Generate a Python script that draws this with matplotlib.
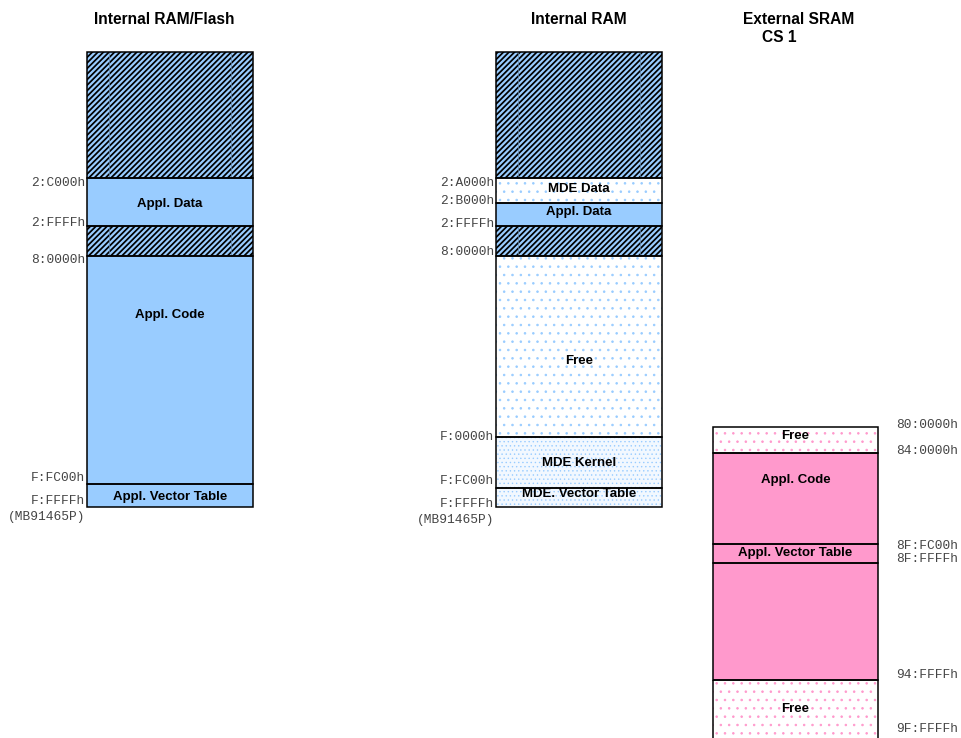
import matplotlib
matplotlib.use("Agg")
import matplotlib.pyplot as plt
from matplotlib.patches import Rectangle

BLUE = "#99CCFF"
PINK = "#FF99CC"

# ---- data (diagram units: vertical position of region boundaries) ----
titles = ["Internal RAM/Flash", "Internal RAM", "External SRAM", "CS 1"]

c1_bounds = [52, 178, 226, 256, 484, 507]
c1_kinds = ["hatch", "blue", "hatch", "blue", "blue"]
c1_labels = ["", "Appl. Data", "", "Appl. Code", "Appl. Vector Table"]
c1_label_y = [0, 204, 0, 315, 497]
c1_addr = ["2:C000h", "2:FFFFh", "8:0000h", "F:FC00h", "F:FFFFh", "(MB91465P)"]
c1_addr_y = [183, 223, 260, 478, 501, 517]

c2_bounds = [52, 178, 203, 226, 256, 437, 488, 507]
c2_kinds = ["hatch", "bluedot", "blue", "hatch", "bluedot", "bluedense", "bluedense"]
c2_labels = ["", "MDE Data", "Appl. Data", "", "Free", "MDE Kernel", "MDE. Vector Table"]
c2_label_y = [0, 189, 212, 0, 361, 463, 494]
c2_addr = ["2:A000h", "2:B000h", "2:FFFFh", "8:0000h", "F:0000h", "F:FC00h", "F:FFFFh", "(MB91465P)"]
c2_addr_y = [183, 201, 224, 252, 437, 481, 504, 520]

c3_bounds = [427, 453, 544, 563, 680, 745]
c3_kinds = ["pinkdot", "pink", "pink", "pink", "pinkdot"]
c3_labels = ["Free", "Appl. Code", "Appl. Vector Table", "", "Free"]
c3_label_y = [436, 480, 553, 0, 709]
c3_addr = ["80:0000h", "84:0000h", "8F:FC00h", "8F:FFFFh", "94:FFFFh", "9F:FFFFh"]
c3_addr_y = [425, 451, 546, 559, 675, 729]

fig = plt.figure(figsize=(9.61, 7.38), dpi=100)
ax = fig.add_axes([0, 0, 1, 1])
ax.set_xlim(0, 961)
ax.set_ylim(738, 0)
ax.axis("off")

STYLE = {
    "hatch": dict(facecolor=BLUE, hatch="//////", edgecolor="black", hlw=1.25),
    "blue": dict(facecolor=BLUE, hatch=None, edgecolor=BLUE, hlw=1.0),
    "bluedot": dict(facecolor="white", hatch="..", edgecolor=BLUE, hlw=0.6),
    "bluedense": dict(facecolor="#F2F8FF", hatch="....", edgecolor=BLUE, hlw=0.5),
    "pink": dict(facecolor=PINK, hatch=None, edgecolor=PINK, hlw=1.0),
    "pinkdot": dict(facecolor="white", hatch="..", edgecolor=PINK, hlw=0.6),
}

def draw_column(x0, x1, bounds, kinds, labels, label_y):
    w = x1 - x0
    for i, kind in enumerate(kinds):
        y0, y1 = bounds[i], bounds[i + 1]
        st = STYLE[kind]
        with plt.rc_context({'hatch.linewidth': st["hlw"]}):
            ax.add_patch(Rectangle((x0, y0), w, y1 - y0, facecolor=st["facecolor"],
                                   hatch=st["hatch"], edgecolor=st["edgecolor"],
                                   linewidth=0, zorder=1))
        ax.add_patch(Rectangle((x0, y0), w, y1 - y0, facecolor="none",
                               edgecolor="black", linewidth=1.1, zorder=3))
        if kind == "hatch":
            for fx in (0.13, 0.87):
                ax.plot([x0 + fx * w] * 2, [y0, y1], color="#6688aa", lw=0.5, zorder=2)
        if labels[i]:
            ax.text(x0 + w / 2, label_y[i], labels[i], ha="center", va="center",
                    fontsize=9.5, fontweight="bold", family="Liberation Sans", zorder=4)

def draw_addr(x, ys, texts, ha):
    for y, t in zip(ys, texts):
        ax.text(x, y, t, ha=ha, va="center", fontsize=9.3,
                family="Liberation Mono", color="#444444")

draw_column(87, 253, c1_bounds, c1_kinds, c1_labels, c1_label_y)
draw_column(496, 662, c2_bounds, c2_kinds, c2_labels, c2_label_y)
draw_column(713, 878, c3_bounds, c3_kinds, c3_labels, c3_label_y)

draw_addr(85, c1_addr_y, c1_addr, "right")
draw_addr(494, c2_addr_y, c2_addr, "right")
draw_addr(896, c3_addr_y, c3_addr, "left")

tkw = dict(va="center", fontsize=11.2, fontweight="bold", family="Liberation Sans")
ax.text(164, 19, titles[0], ha="center", **tkw)
ax.text(579, 19, titles[1], ha="center", **tkw)
ax.text(743, 19, titles[2], ha="left", **tkw)
ax.text(762, 38, titles[3], ha="left", **tkw)

fig.savefig("out.png", dpi=100)
